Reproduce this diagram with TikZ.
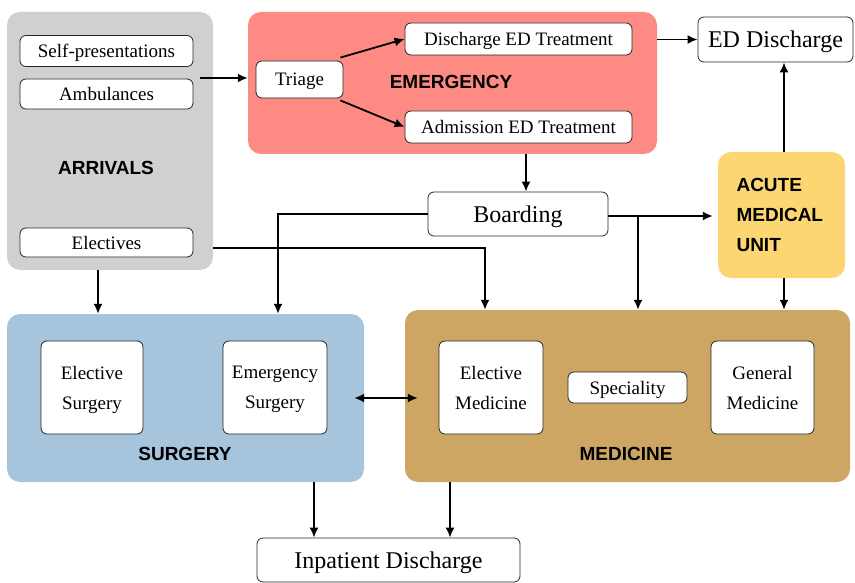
\documentclass[tikz,border=0pt]{standalone}
\usepackage{fontspec}
\setmainfont{Liberation Serif}
\setsansfont{Liberation Sans}
\usetikzlibrary{arrows.meta,positioning}

\definecolor{arrgray}{HTML}{D0D0D0}
\definecolor{emgred}{HTML}{FD8B83}
\definecolor{surblue}{HTML}{A6C4DC}
\definecolor{medgold}{HTML}{CEA663}
\definecolor{amuyellow}{HTML}{FCD672}

\begin{document}
\begin{tikzpicture}[x=1pt,y=-1pt,
    area/.style={rounded corners=13pt,inner sep=0pt},
    box/.style={draw=black!85,fill=white,rounded corners=6pt,line width=0.8pt,inner sep=0pt,align=center,text depth=0pt,font=\fontsize{19}{30}\selectfont},
    bigbox/.style={box,font=\fontsize{24}{28}\selectfont},
    tag/.style={font=\fontsize{19}{30}\selectfont\sffamily\bfseries},
    flow/.style={line width=1.8pt,-{Latex[length=10pt,width=9pt]}}]
\useasboundingbox (0,0) rectangle (855,583);
% coloured areas
\node[area,fill=arrgray,minimum width=206pt,minimum height=258pt] (arr) at (110,141) {};
\node[area,fill=emgred,minimum width=409pt,minimum height=142pt] (emg) at (452.5,83) {};
\node[area,fill=amuyellow,minimum width=127pt,minimum height=126pt] (amu) at (781.5,215) {};
\node[area,fill=surblue,minimum width=357pt,minimum height=168pt] (sur) at (185.5,398) {};
\node[area,fill=medgold,minimum width=445pt,minimum height=172pt] (med) at (627.5,396) {};
% labels
\node[tag] (arrtag) at (106,168) {ARRIVALS};
\node[tag] (emgtag) at (451,82) {EMERGENCY};
\node[tag,align=left,anchor=west] (amutag) at (733,215) {ACUTE\\MEDICAL\\UNIT};
\node[tag] (surtag) at (185,454) {SURGERY};
\node[tag] (medtag) at (626,454) {MEDICINE};
% boxes
\node[box,minimum width=173pt,minimum height=31pt] (self) at (106.5,51) {Self-presentations};
\node[box,minimum width=173pt,minimum height=30pt] (amb) at (106.5,94) {Ambulances};
\node[box,minimum width=173pt,minimum height=29pt] (elec) at (106.5,242.5) {Electives};
\node[box,minimum width=87pt,minimum height=37pt] (tri) at (299.5,79.5) {Triage};
\node[box,minimum width=227pt,minimum height=32pt] (dis) at (518.5,39) {Discharge ED Treatment};
\node[box,minimum width=227pt,minimum height=32pt] (adm) at (518.5,127) {Admission ED Treatment};
\node[bigbox,minimum width=155pt,minimum height=45pt] (edd) at (775.5,39.5) {ED Discharge};
\node[bigbox,minimum width=180pt,minimum height=44pt] (brd) at (518,214) {Boarding};
\node[box,minimum width=102pt,minimum height=93pt] (esur) at (92,387.5) {Elective\\Surgery};
\node[box,minimum width=104pt,minimum height=93pt] (xsur) at (275,387.5) {Emergency\\Surgery};
\node[box,minimum width=104pt,minimum height=93pt] (emed) at (491,387.5) {Elective\\Medicine};
\node[box,minimum width=119pt,minimum height=31pt] (spec) at (627.5,387.5) {Speciality};
\node[box,minimum width=103pt,minimum height=93pt] (gmed) at (762.5,387.5) {General\\Medicine};
\node[bigbox,minimum width=263pt,minimum height=44pt] (inp) at (388.5,560) {Inpatient Discharge};
% junctions
\coordinate (a1) at (200,78);
\coordinate (el) at (213,248);
\coordinate (bl) at (278,214);
\coordinate (bj) at (638,216);
% connectors
\draw[flow] (a1) -- (a1 -| emg.west);
\draw[flow] ([xshift=-3pt,yshift=3pt]tri.north east) -- (dis.west);
\draw[flow] ([xshift=-3pt,yshift=-2pt]tri.south east) -- (adm.west);
\draw[flow] (emg.east |- edd) -- (edd.west);
\draw[flow] (amu.north -| 784,0) -- (784,0 |- edd.south);
\draw[flow] (526,0 |- emg.south) -- (526,0 |- brd.north);
\draw[flow] (brd.east |- bj) -- ([xshift=-5pt]amu.west |- bj);
\draw[flow] (bj) -- (bj |- med.north);
\draw[flow] (brd.west) -- (bl) -- (bl |- sur.north);
\draw[flow] (el) -| (485,0 |- med.north);
\draw[flow] (98,0 |- arr.south) -- (98,0 |- sur.north);
\draw[flow] (784,0 |- amu.south) -- (784,0 |- med.north);
\draw[line width=1.8pt,{Latex[length=10pt,width=9pt]}-{Latex[length=10pt,width=9pt]}] ([xshift=-10pt]sur.east) -- ([xshift=13pt]med.west |- sur.east);
\draw[flow] (314,0 |- sur.south) -- (314,0 |- inp.north);
\draw[flow] (450,0 |- med.south) -- (450,0 |- inp.north);
\end{tikzpicture}
\end{document}
